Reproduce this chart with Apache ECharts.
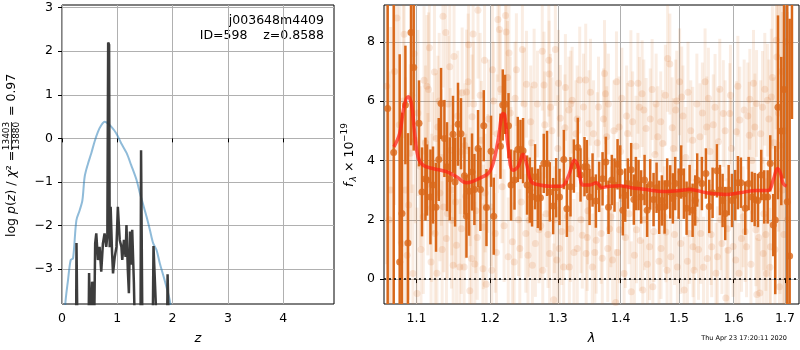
<!DOCTYPE html>
<html>
<head>
<meta charset="utf-8">
<script src="https://cdn.jsdelivr.net/npm/echarts@6/dist/echarts.min.js"></script>
<style>
  html, body { margin: 0; padding: 0; background: #fff; }
  #chart { width: 800px; height: 350px; }
</style>
</head>
<body>
<div id="chart"></div>
<script>
// left panel: log p(z) and chi2 curves
const zTicks = [0, 1, 2, 3, 4];
const pzTicks = [-3, -2, -1, 0, 1, 2, 3];
// [z, value]
const chi2Curve = [
  [0.040, -4.6], [0.060, -3.80], [0.109, -3.25], [0.157, -2.79], [0.200, -2.75], [0.260, -1.88],
  [0.320, -1.65], [0.369, -1.42], [0.410, -0.88], [0.470, -0.58], [0.530, -0.34], [0.590, -0.07],
  [0.650, 0.15], [0.710, 0.30], [0.770, 0.38], [0.810, 0.36], [0.890, 0.27], [0.980, 0.12],
  [1.070, -0.11], [1.170, -0.34], [1.250, -0.61], [1.350, -0.96], [1.410, -1.26], [1.470, -1.53],
  [1.530, -1.80], [1.590, -2.10], [1.650, -2.41], [1.710, -2.56], [1.770, -2.87], [1.840, -3.18],
  [1.920, -3.56], [1.960, -3.80], [2.000, -4.6]
];
const pzCurve = [
  [0.20, -4.5], [0.255, -4.5], [0.262, -2.40], [0.272, -2.42], [0.280, -4.5],
  [0.480, -4.5], [0.490, -3.09], [0.500, -3.12], [0.515, -4.5], [0.535, -4.5], [0.545, -3.29], [0.555, -3.35], [0.565, -4.5],
  [0.585, -4.0], [0.600, -2.41], [0.620, -2.18], [0.650, -2.79], [0.680, -2.49], [0.710, -3.06], [0.740, -2.41],
  [0.770, -2.18], [0.800, -2.49], [0.820, -2.25], [0.835, 2.20], [0.852, 2.15], [0.863, -2.5], [0.880, -1.57],
  [0.905, -2.6], [0.923, -3.10], [0.954, -2.72], [0.985, -2.49], [1.010, -1.57], [1.044, -2.33], [1.075, -2.49],
  [1.090, -2.79], [1.120, -2.33], [1.150, -2.72], [1.166, -1.99], [1.190, -3.0], [1.210, -3.55], [1.230, -2.14],
  [1.250, -2.9], [1.270, -2.1], [1.300, -3.3], [1.320, -4.5], [1.420, -4.5], [1.430, -0.27], [1.445, -0.30],
  [1.455, -4.5], [1.640, -4.5], [1.655, -2.47], [1.670, -2.50], [1.700, -3.9], [1.720, -4.5],
  [1.900, -4.5], [1.910, -3.12], [1.925, -3.15], [1.935, -4.5]
];

// right panel: spectrum
const lamTicks = [1.1, 1.2, 1.3, 1.4, 1.5, 1.6, 1.7];
const fluxTicks = [0, 2, 4, 6, 8];
// [lambda, flux, err] individual pixels (faint)
const rawPoints = [
  [1.0620, 6.5, 6.0], [1.0670, 3.0, 5.5], [1.0720, 7.0, 4.5], [1.0780, 5.2, 4.0], [1.0810, 1.2, 4.2],
  [1.0842, 8.25, 3.5], [1.0860, 3.0, 3.8], [1.0900, 2.5, 3.2], [1.0921, 4.24, 3.0], [1.0940, 6.2, 3.3],
  [1.0955, 0.19, 3.0], [1.0987, 4.68, 2.8], [1.1008, -0.49, 2.9], [1.1050, 3.8, 2.7], [1.1090, 2.1, 2.6],
  [1.1100, 6.7, 2.5], [1.1137, 6.5, 2.4], [1.1159, 6.39, 2.6], [1.1192, 0.58, 2.5], [1.1210, 3.9, 2.4],
  [1.1237, 6.98, 2.3], [1.1245, 1.54, 2.5], [1.1260, 4.74, 2.2], [1.1282, 5.13, 2.4], [1.1310, 2.9, 2.3],
  [1.1351, 8.86, 2.4], [1.1360, 2.43, 2.2], [1.1388, 8.31, 2.3], [1.1397, 1.37, 2.5], [1.1410, 2.21, 2.2],
  [1.1442, 7.16, 2.4], [1.1450, 4.34, 2.1], [1.1466, 1.98, 2.3], [1.1488, 0.47, 2.4], [1.1534, 1.14, 2.2],
  [1.1579, 0.41, 2.3], [1.1585, 4.29, 2.1], [1.1611, 6.28, 2.2], [1.1638, 0.41, 2.4], [1.1671, 6.31, 2.1],
  [1.1693, 6.65, 2.3], [1.1716, -0.39, 2.2], [1.1722, 3.11, 2.0], [1.1740, 0.69, 2.3], [1.1748, 5.47, 2.1],
  [1.1762, 8.26, 2.2], [1.1785, 0.51, 2.1], [1.1830, 9.06, 2.3], [1.1877, 4.68, 2.0], [1.1899, 0.35, 2.2],
  [1.1905, 1.76, 2.1], [1.1922, 7.38, 2.2], [1.1945, -0.17, 2.1], [1.1967, 3.56, 2.0],
  [1.2015, 2.43, 2.0], [1.2024, 0.30, 2.1], [1.2034, 7.06, 2.2], [1.2074, 1.54, 2.0], [1.2112, 8.75, 2.1],
  [1.2133, 8.41, 2.2], [1.2172, 3.11, 1.9], [1.2222, 8.89, 2.0], [1.2230, 8.33, 2.1], [1.2260, 0.75, 2.0],
  [1.2271, 7.62, 1.9], [1.2320, 1.26, 2.1], [1.2346, 0.58, 2.0], [1.2379, 7.06, 1.9], [1.2429, 1.03, 2.0],
  [1.2467, 7.74, 1.9], [1.2518, 1.54, 2.0], [1.2527, 6.57, 1.8], [1.2567, 1.98, 1.9], [1.2615, 0.47, 2.0],
  [1.2641, 6.54, 1.9], [1.2714, 1.66, 1.8], [1.2763, 7.68, 2.0], [1.2770, 0.30, 1.9], [1.2789, 6.54, 1.8],
  [1.2862, 7.38, 1.9], [1.2868, 6.91, 1.8], [1.2875, 0.86, 2.0], [1.2888, 5.79, 1.8], [1.2937, -0.70, 1.9],
  [1.2962, 7.74, 1.9], [1.2985, 0.64, 1.8], [1.3022, 1.03, 1.9], [1.3038, 5.42, 1.8], [1.3090, 0.41, 1.9],
  [1.3117, 6.46, 1.8], [1.3170, 5.70, 1.8], [1.3178, 0.41, 1.9], [1.3197, 1.70, 1.8], [1.3222, 6.03, 1.8],
  [1.3302, 1.03, 1.9], [1.3340, 6.71, 1.8], [1.3381, 1.48, 1.8], [1.3435, 6.71, 1.9], [1.3442, 0.86, 1.8],
  [1.3487, 5.24, 1.8], [1.3540, 0.41, 1.8],
  [1.3603, 1.31, 1.8], [1.3683, 1.54, 1.7], [1.3737, 6.93, 1.8], [1.3752, 6.25, 1.7], [1.3773, 4.8, 1.7],
  [1.3789, 1.03, 1.8], [1.3868, 0.64, 1.7], [1.3919, -0.79, 1.8], [1.3932, 6.65, 1.7], [1.3975, 5.13, 1.7],
  [1.3982, 1.66, 1.8], [1.4058, 0.19, 1.7], [1.4115, 4.91, 1.7], [1.4171, 6.59, 1.8], [1.4178, -0.43, 1.7],
  [1.4257, 4.48, 1.7], [1.4265, 1.66, 1.8], [1.4315, 5.79, 1.7], [1.4360, 6.25, 1.8], [1.4372, -0.37, 1.7],
  [1.4428, 5.08, 1.7], [1.4486, 1.09, 1.8], [1.4531, 6.39, 1.7], [1.4543, -0.26, 1.8], [1.4628, 4.80, 1.7],
  [1.4685, 1.03, 1.7], [1.4714, 4.57, 1.8], [1.4771, 1.59, 1.7], [1.4800, 7.44, 1.8], [1.4839, 7.25, 1.7],
  [1.4856, 0.75, 1.8], [1.4942, 5.70, 1.7], [1.4971, 0.41, 1.7], [1.5011, 6.65, 1.8], [1.5048, 6.14, 1.7],
  [1.5092, -0.37, 1.8], [1.5183, 1.54, 1.7], [1.5244, 4.68, 1.8], [1.5250, 1.09, 1.7],
  [1.5377, 4.80, 1.8], [1.5390, 1.54, 1.7], [1.5469, 6.65, 1.8], [1.5500, 5.13, 1.7], [1.5510, 0.69, 1.8],
  [1.5591, 1.09, 1.7], [1.5652, 5.79, 1.8], [1.5696, 0.75, 1.7], [1.5714, 4.63, 1.8], [1.5806, 5.58, 1.8],
  [1.5853, -0.64, 1.7], [1.5897, 0.97, 1.8], [1.5927, 5.58, 1.7], [1.6039, 0.64, 1.8], [1.6052, 4.97, 1.7],
  [1.6116, 5.36, 1.8], [1.6149, 1.37, 1.8], [1.6246, 1.09, 1.7], [1.6298, 4.85, 1.8], [1.6309, 6.06, 1.7],
  [1.6406, 5.13, 1.8], [1.6426, 1.66, 1.9], [1.6439, 5.92, 1.8], [1.6445, -0.52, 1.9], [1.6503, -0.47, 1.8],
  [1.6555, 5.79, 1.9], [1.6569, 0.86, 1.9], [1.6632, 0.19, 2.0], [1.6652, 6.03, 1.9], [1.6710, 1.09, 2.2],
  [1.6729, 6.14, 2.3], [1.6826, 8.05, 3.0], [1.6839, 7.49, 3.2], [1.6890, -0.26, 3.5], [1.6900, 4.5, 5.0],
  [1.6950, 3.0, 6.0], [1.7000, 5.0, 6.0], [1.7050, 2.0, 7.0],
  [1.1150, 3.2, 2.4], [1.1330, 4.1, 2.3], [1.1520, 2.6, 2.2], [1.1650, 4.5, 2.1], [1.1800, 2.3, 2.1],
  [1.2100, 4.9, 2.0], [1.2300, 3.9, 1.9], [1.2450, 2.6, 1.9], [1.2600, 4.6, 1.9], [1.2820, 2.2, 1.8],
  [1.3000, 4.4, 1.8], [1.3150, 2.1, 1.8], [1.3280, 4.9, 1.8], [1.3470, 2.3, 1.8], [1.3620, 4.6, 1.7],
  [1.3840, 2.1, 1.7], [1.4000, 4.3, 1.7], [1.4140, 2.2, 1.7], [1.4400, 2.0, 1.7], [1.4580, 4.2, 1.7],
  [1.4740, 2.1, 1.7], [1.4900, 4.4, 1.7], [1.5120, 4.1, 1.7], [1.5300, 2.0, 1.7], [1.5560, 4.3, 1.7],
  [1.5760, 2.0, 1.7], [1.5960, 4.4, 1.7], [1.6180, 2.1, 1.7], [1.6350, 4.0, 1.8], [1.6580, 2.2, 1.9],
  [1.6780, 4.6, 2.2],
  [1.0650, 2.0, 5.0], [1.0750, 8.8, 4.5], [1.0830, 6.0, 3.8], [1.0880, 0.8, 3.4], [1.0970, 7.6, 3.0],
  [1.1020, 5.6, 2.8], [1.1060, 1.0, 2.7], [1.1120, 4.6, 2.6], [1.1170, 7.8, 2.5], [1.1200, 2.4, 2.5],
  [1.1270, 0.2, 2.4], [1.1300, 6.0, 2.3], [1.1340, 1.0, 2.3], [1.1420, 5.9, 2.3], [1.1470, 3.0, 2.2],
  [1.1500, 7.5, 2.2], [1.1550, 5.5, 2.2], [1.1600, 1.7, 2.2], [1.1660, 2.8, 2.1], [1.1700, 7.9, 2.1],
  [1.1770, 5.9, 2.1], [1.1820, 1.4, 2.1], [1.1860, 6.2, 2.1], [1.1930, 2.9, 2.0], [1.1980, 5.4, 2.0],
  [1.2050, 6.0, 2.0], [1.2090, 0.9, 2.0], [1.2150, 6.4, 2.0], [1.2200, 1.8, 1.9], [1.2250, 6.8, 1.9],
  [1.2290, 5.6, 1.9], [1.2360, 6.1, 1.9], [1.2410, 2.0, 1.9], [1.2490, 5.9, 1.9], [1.2550, 0.8, 1.9],
  [1.2590, 5.3, 1.9], [1.2660, 1.2, 1.8], [1.2690, 5.9, 1.8], [1.2740, 1.8, 1.8], [1.2800, 5.2, 1.8],
  [1.2850, 1.5, 1.8], [1.2910, 5.0, 1.8], [1.2950, 2.0, 1.8], [1.3010, 6.6, 1.8], [1.3060, 1.6, 1.8],
  [1.3110, 5.1, 1.8], [1.3200, 5.9, 1.8], [1.3250, 0.9, 1.8], [1.3300, 5.4, 1.8], [1.3360, 2.0, 1.8],
  [1.3400, 5.8, 1.8], [1.3460, 1.4, 1.8], [1.3510, 6.3, 1.8], [1.3560, 4.9, 1.8], [1.3580, 0.9, 1.7],
  [1.3640, 5.8, 1.7], [1.3700, 0.7, 1.7], [1.3720, 5.4, 1.7], [1.3800, 5.9, 1.7], [1.3820, 1.7, 1.7],
  [1.3890, 5.0, 1.7], [1.3950, 0.9, 1.7], [1.4020, 6.1, 1.7], [1.4080, 1.4, 1.7], [1.4100, 5.5, 1.7],
  [1.4200, 5.3, 1.7], [1.4230, 0.8, 1.7], [1.4290, 6.6, 1.7], [1.4330, 1.3, 1.7], [1.4390, 5.7, 1.7],
  [1.4450, 0.5, 1.7], [1.4500, 5.4, 1.7], [1.4560, 1.6, 1.7], [1.4600, 5.9, 1.7], [1.4650, 0.6, 1.7],
  [1.4680, 5.3, 1.7], [1.4760, 6.2, 1.7], [1.4790, 0.3, 1.7], [1.4880, 5.1, 1.7], [1.4920, 1.5, 1.7],
  [1.4960, 6.0, 1.7], [1.5030, 1.2, 1.7], [1.5070, 5.5, 1.7], [1.5150, 0.6, 1.7], [1.5160, 6.3, 1.7],
  [1.5210, 5.0, 1.7], [1.5270, 0.3, 1.7], [1.5320, 5.9, 1.7], [1.5350, 1.0, 1.7], [1.5420, 5.6, 1.7],
  [1.5440, 0.4, 1.7], [1.5530, 6.1, 1.7], [1.5580, 1.5, 1.7], [1.5620, 5.2, 1.7], [1.5670, 0.2, 1.7],
  [1.5740, 6.4, 1.7], [1.5780, 1.2, 1.7], [1.5840, 5.0, 1.7], [1.5880, 1.7, 1.7], [1.5940, 6.2, 1.7],
  [1.5990, 1.1, 1.7], [1.6080, 6.5, 1.7], [1.6100, 0.2, 1.7], [1.6200, 5.7, 1.7], [1.6220, 1.6, 1.7],
  [1.6270, 5.5, 1.8], [1.6330, 0.5, 1.8], [1.6380, 6.6, 1.8], [1.6480, 1.4, 1.8], [1.6520, 4.9, 1.8],
  [1.6600, 6.4, 1.9], [1.6620, 1.5, 1.9], [1.6680, 5.4, 2.0], [1.6700, 0.4, 2.0], [1.6750, 6.8, 2.4],
  [1.6800, 1.0, 2.8], [1.6870, 5.6, 4.0], [1.6930, 7.0, 5.0], [1.6980, 1.5, 6.0], [1.7020, 8.0, 6.0]
];
// [lambda, flux, err] binned points (dark)
const binPoints = [
  [1.0633, 5.75, 7.0], [1.0709, 4.27, 7.0], [1.0785, 0.58, 7.0], [1.0814, 2.21, 3.4], [1.0858, 5.87, 2.0],
  [1.0891, 1.22, 3.7], [1.0930, 8.31, 3.8], [1.0965, 7.13, 2.8], [1.1034, 5.25, 1.45], [1.1073, 2.94, 1.5],
  [1.1118, 3.37, 1.4], [1.1139, 3.34, 1.2], [1.1184, 2.77, 1.6], [1.1218, 3.17, 1.3], [1.1258, 2.42, 1.5],
  [1.1294, 4.03, 1.4], [1.1325, 5.92, 1.2], [1.1370, 4.74, 1.3], [1.1405, 3.79, 1.5], [1.1442, 3.38, 1.4],
  [1.1486, 4.88, 1.3], [1.1514, 3.27, 1.5], [1.1554, 5.22, 1.4], [1.1595, 4.90, 1.2], [1.1642, 3.48, 1.3],
  [1.1670, 2.12, 1.4], [1.1706, 2.96, 1.5], [1.1747, 3.61, 1.3], [1.1780, 3.02, 1.2], [1.1831, 4.40, 1.3],
  [1.1864, 3.02, 1.4], [1.1911, 5.17, 1.2], [1.1949, 2.41, 1.3], [1.2014, 4.31, 1.2], [1.2052, 2.12, 1.3],
  [1.2148, 4.48, 1.1], [1.2181, 5.87, 1.2], [1.2215, 5.89, 1.0], [1.2264, 5.17, 1.1], [1.2301, 3.17, 1.2],
  [1.2351, 3.34, 1.0], [1.2399, 4.37, 1.1], [1.2439, 4.37, 1.0], [1.2477, 4.33, 1.1], [1.2536, 3.17, 1.0],
  [1.2576, 3.00, 1.1], [1.2610, 2.77, 1.0], [1.2655, 3.45, 1.1], [1.2696, 2.72, 1.0], [1.2736, 2.74, 1.1],
  [1.2786, 3.90, 1.0], [1.2836, 3.90, 1.1], [1.2877, 2.94, 1.0], [1.2928, 2.46, 0.95], [1.2974, 3.08, 1.0],
  [1.3026, 2.77, 0.95], [1.3092, 4.03, 1.0], [1.3139, 2.37, 0.95], [1.3196, 3.11, 1.0], [1.3248, 3.81, 0.9],
  [1.3310, 4.44, 1.0], [1.3353, 3.51, 0.9], [1.3416, 3.79, 1.0], [1.3453, 3.79, 0.9], [1.3496, 2.77, 0.95],
  [1.3544, 3.34, 0.9], [1.3597, 2.63, 0.9], [1.3650, 3.11, 0.85], [1.3705, 3.38, 0.9], [1.3758, 3.95, 0.85],
  [1.3802, 2.42, 0.9], [1.3856, 3.34, 0.85], [1.3900, 3.17, 0.9], [1.3950, 3.87, 0.85], [1.3993, 3.61, 0.9],
  [1.4037, 2.32, 0.85], [1.4076, 2.83, 0.9], [1.4121, 3.22, 0.85], [1.4176, 3.69, 0.9], [1.4221, 2.68, 0.85],
  [1.4255, 3.22, 0.9], [1.4300, 3.17, 0.85], [1.4344, 2.77, 0.9], [1.4402, 3.34, 0.85], [1.4446, 2.32, 0.9],
  [1.4498, 3.19, 0.85], [1.4556, 2.68, 0.9], [1.4608, 3.08, 0.85], [1.4653, 2.42, 0.9], [1.4700, 2.65, 0.85],
  [1.4747, 2.43, 0.9], [1.4792, 3.22, 0.85], [1.4845, 2.94, 0.9], [1.4892, 2.72, 0.85], [1.4933, 3.22, 0.9],
  [1.4993, 2.88, 0.85], [1.5039, 3.61, 0.9], [1.5087, 2.88, 0.85], [1.5135, 2.39, 0.9], [1.5189, 3.00, 0.85],
  [1.5243, 2.32, 0.9], [1.5290, 2.65, 0.85], [1.5326, 3.34, 0.9], [1.5411, 3.22, 0.9], [1.5484, 3.56, 0.85],
  [1.5545, 2.45, 0.9], [1.5607, 2.91, 0.85], [1.5687, 3.65, 0.9], [1.5743, 3.00, 0.85], [1.5793, 2.65, 0.9],
  [1.5842, 2.21, 0.9], [1.5906, 3.00, 0.85], [1.5968, 2.65, 0.9], [1.6030, 2.83, 0.85], [1.6081, 3.25, 0.9],
  [1.6138, 3.25, 0.85], [1.6221, 2.39, 0.9], [1.6286, 3.22, 0.9], [1.6350, 2.77, 0.85], [1.6402, 2.68, 0.9],
  [1.6466, 2.65, 0.9], [1.6530, 3.51, 0.85], [1.6589, 2.77, 0.9], [1.6656, 2.77, 0.9], [1.6707, 3.90, 0.95],
  [1.6766, 1.82, 1.05], [1.6806, 1.99, 2.5], [1.6860, 5.79, 3.1], [1.6926, 4.99, 2.5], [1.6980, 6.39, 3.0],
  [1.7046, 2.61, 8.0], [1.7094, 0.78, 8.0], [1.7141, 9.8, 4.4]
];
// [lambda, flux] model
const modelLine = [
  [1.0712, 4.46], [1.0785, 4.91], [1.0840, 5.81], [1.0892, 6.15], [1.0935, 5.92], [1.0978, 4.91],
  [1.1021, 4.12], [1.1086, 3.84], [1.1218, 3.73], [1.1397, 3.62], [1.1533, 3.45], [1.1670, 3.25],
  [1.1739, 3.28], [1.1854, 3.40], [1.1972, 3.56], [1.2043, 3.90], [1.2114, 4.68], [1.2186, 5.58],
  [1.2210, 5.53], [1.2258, 4.46], [1.2331, 3.67], [1.2404, 3.79], [1.2477, 4.21], [1.2527, 3.90],
  [1.2601, 3.28], [1.2726, 3.17], [1.2877, 3.13], [1.3057, 3.13], [1.3159, 3.45], [1.3263, 4.01],
  [1.3316, 3.79], [1.3395, 3.17], [1.3501, 3.17], [1.3608, 3.25], [1.3689, 3.09], [1.3823, 3.13],
  [1.3988, 3.15], [1.4154, 3.09], [1.4436, 3.02], [1.4722, 2.95], [1.5015, 2.99], [1.5193, 3.02],
  [1.5496, 2.91], [1.5867, 2.85], [1.6119, 2.91], [1.6440, 2.99], [1.6666, 2.99], [1.6765, 3.34],
  [1.6853, 3.73], [1.6912, 3.56], [1.6964, 3.22], [1.7032, 3.13]
];

const ORANGE = '#d9681a';
const FONT = 'DejaVu Sans';
const lnMin = Math.log(1.0587), lnMax = Math.log(1.7284);

function toLn(arr) {
  return arr.map(p => [Math.log(p[0])].concat(p.slice(1)));
}

function errBar(color, width, opacity) {
  return function (params, api) {
    const x = api.value(0), y = api.value(1), e = api.value(2);
    const a = api.coord([x, y - e]);
    const b = api.coord([x, y + e]);
    return {
      type: 'line',
      shape: { x1: a[0], y1: a[1], x2: b[0], y2: b[1] },
      style: { stroke: color, lineWidth: width, opacity: opacity }
    };
  };
}

const minus = v => String(v).replace('-', '\u2212');
const tickStyle = { show: true, length: 4, lineStyle: { color: '#000', width: 1 } };
const labelStyle = { color: '#000', fontSize: 12.5, fontFamily: FONT };
const gridLine = { show: true, lineStyle: { color: '#b0b0b0', width: 1 } };

const myChart = echarts.init(document.getElementById('chart'));
const option = {
  animation: false,
  textStyle: { fontFamily: FONT },
  grid: [
    { left: 62, top: 5, width: 272, height: 299, show: true, borderColor: '#000', borderWidth: 1, outerBoundsMode: 'none' },
    { left: 384, top: 5, width: 415, height: 299, show: true, borderColor: '#000', borderWidth: 1, outerBoundsMode: 'none' }
  ],
  xAxis: [
    {
      gridIndex: 0, type: 'value', min: 0, max: 4.92,
      axisLine: { show: false },
      axisTick: Object.assign({ customValues: zTicks }, tickStyle),
      axisLabel: Object.assign({ customValues: zTicks, margin: 8 }, labelStyle),
      splitLine: gridLine,
      name: 'z', nameLocation: 'middle', nameGap: 28,
      nameTextStyle: { fontSize: 13, fontStyle: 'italic', color: '#000', fontFamily: FONT }
    },
    {
      gridIndex: 1, type: 'value', min: lnMin, max: lnMax,
      axisLine: { show: false },
      axisTick: Object.assign({ customValues: lamTicks.map(Math.log) }, tickStyle),
      axisLabel: Object.assign({
        customValues: lamTicks.map(Math.log), margin: 8,
        formatter: v => Math.exp(v).toFixed(1)
      }, labelStyle),
      splitLine: gridLine,
      name: '\u03bb', nameLocation: 'middle', nameGap: 28,
      nameTextStyle: { fontSize: 13, fontStyle: 'italic', color: '#000', fontFamily: FONT }
    }
  ],
  yAxis: [
    {
      gridIndex: 0, type: 'value', min: -3.80, max: 3.06,
      axisLine: { show: false },
      axisTick: Object.assign({ customValues: pzTicks }, tickStyle),
      axisLabel: Object.assign({ customValues: pzTicks, margin: 9, formatter: minus }, labelStyle),
      splitLine: gridLine
    },
    {
      gridIndex: 1, type: 'value', min: -0.84, max: 9.24,
      axisLine: { show: false },
      axisTick: Object.assign({ customValues: fluxTicks }, tickStyle),
      axisLabel: Object.assign({ customValues: fluxTicks, margin: 9 }, labelStyle),
      splitLine: gridLine
    }
  ],
  series: [
    {
      type: 'line', xAxisIndex: 0, yAxisIndex: 0, data: chi2Curve, showSymbol: false, smooth: 0.3,
      lineStyle: { color: 'rgba(31,119,180,0.5)', width: 2 }, z: 3
    },
    {
      type: 'line', xAxisIndex: 0, yAxisIndex: 0, data: pzCurve, showSymbol: false,
      lineStyle: { color: '#333', width: 2.5, opacity: 0.95 }, z: 4
    },
    {
      type: 'custom', xAxisIndex: 1, yAxisIndex: 1, data: toLn(rawPoints), clip: true,
      renderItem: errBar(ORANGE, 3, 0.12), z: 1
    },
    {
      type: 'scatter', xAxisIndex: 1, yAxisIndex: 1, data: toLn(rawPoints), symbolSize: 7,
      itemStyle: { color: ORANGE, opacity: 0.15 }, z: 1,
      markLine: {
        silent: true, symbol: 'none', label: { show: false },
        lineStyle: { color: '#000', type: [2, 3], width: 1.5 },
        data: [{ yAxis: 0 }]
      }
    },
    {
      type: 'custom', xAxisIndex: 1, yAxisIndex: 1, data: toLn(binPoints), clip: true,
      renderItem: errBar(ORANGE, 2.5, 1), z: 3
    },
    {
      type: 'scatter', xAxisIndex: 1, yAxisIndex: 1, data: toLn(binPoints), symbolSize: 7,
      itemStyle: { color: ORANGE }, z: 4
    },
    {
      type: 'line', xAxisIndex: 1, yAxisIndex: 1, data: toLn(modelLine), showSymbol: false, smooth: 0.4,
      lineStyle: { color: 'rgba(255,30,20,0.7)', width: 3.5 }, z: 5
    }
  ],
  graphic: [
    {
      type: 'text', right: 476, top: 14,
      style: { text: 'j003648m4409', fontSize: 12.5, fontFamily: FONT, fill: '#000', textAlign: 'right' }
    },
    {
      type: 'text', right: 476, top: 29,
      style: { text: 'ID=598    z=0.8588', fontSize: 12.5, fontFamily: FONT, fill: '#000', textAlign: 'right' }
    },
    {
      type: 'group', x: 12, y: 237, rotation: Math.PI / 2,
      children: [
        {
          type: 'text', x: 0, y: 0,
          style: {
            text: '{n|log }{i|p}{n|(}{i|z}{n|) / }{i|\u03c7}{n|\u00b2 =}',
            verticalAlign: 'middle', textAlign: 'left',
            rich: {
              n: { fontSize: 12.5, fontFamily: FONT, fill: '#000' },
              i: { fontSize: 12.5, fontFamily: FONT, fontStyle: 'italic', fill: '#000' }
            }
          }
        },
        { type: 'text', x: 101, y: -5, style: { text: '13403', fontSize: 9, fontFamily: FONT, fill: '#000', textAlign: 'center', verticalAlign: 'middle' } },
        { type: 'line', shape: { x1: 87, y1: -0.5, x2: 115, y2: -0.5 }, style: { stroke: '#000', lineWidth: 0.8 } },
        { type: 'text', x: 101, y: 5, style: { text: '13880', fontSize: 9, fontFamily: FONT, fill: '#000', textAlign: 'center', verticalAlign: 'middle' } },
        { type: 'text', x: 121, y: 0, style: { text: '= 0.97', fontSize: 12.5, fontFamily: FONT, fill: '#000', textAlign: 'left', verticalAlign: 'middle' } }
      ]
    },
    {
      type: 'group', x: 350, y: 187, rotation: Math.PI / 2,
      children: [
        { type: 'text', x: 0, y: 0, style: { text: 'f', fontSize: 12.5, fontStyle: 'italic', fontFamily: FONT, fill: '#000', verticalAlign: 'middle' } },
        { type: 'text', x: 5.5, y: 3.5, style: { text: '\u03bb', fontSize: 9, fontStyle: 'italic', fontFamily: FONT, fill: '#000', verticalAlign: 'middle' } },
        { type: 'text', x: 15, y: 0, style: { text: '\u00d7 10', fontSize: 12.5, fontFamily: FONT, fill: '#000', verticalAlign: 'middle' } },
        { type: 'text', x: 45, y: -5, style: { text: '\u221219', fontSize: 9, fontFamily: FONT, fill: '#000', verticalAlign: 'middle' } }
      ]
    },
    {
      type: 'text', right: 13, top: 335,
      style: { text: 'Thu Apr 23 17:20:11 2020', fontSize: 6.5, fontFamily: FONT, fill: '#000', textAlign: 'right' }
    }
  ]
};
myChart.setOption(option);
</script>
</body>
</html>
